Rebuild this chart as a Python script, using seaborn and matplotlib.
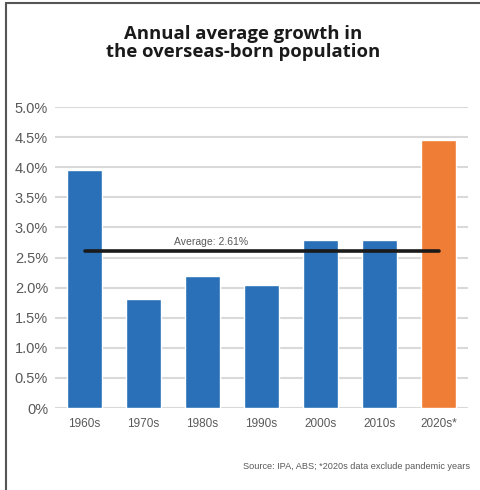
import matplotlib
matplotlib.use("Agg")
import matplotlib.pyplot as plt
import matplotlib.lines as mlines
import seaborn as sns
import pandas as pd

# Decades and annual average growth of the overseas-born population (%)
decades = ["1960s", "1970s", "1980s", "1990s", "2000s", "2010s", "2020s*"]
growth = [3.95, 1.81, 2.19, 2.05, 2.79, 2.79, 4.45]
average = 2.61
y_ticks = [0, 0.5, 1.0, 1.5, 2.0, 2.5, 3.0, 3.5, 4.0, 4.5, 5.0]
y_tick_labels = ["0%", "0.5%", "1.0%", "1.5%", "2.0%", "2.5%", "3.0%", "3.5%", "4.0%", "4.5%", "5.0%"]

BLUE = "#2970B8"
ORANGE = "#EF7D35"
GREY_TXT = "#595959"

sns.set_theme(style="white")
plt.rcParams["font.family"] = ["Liberation Sans", "DejaVu Sans"]

df = pd.DataFrame({"decade": decades, "growth": growth})
colors = [ORANGE if d.endswith("*") else BLUE for d in decades]

fig = plt.figure(figsize=(4.8, 4.9), dpi=100)
ax = fig.add_axes([0.1146, 0.1673, 0.8604, 0.6143])

sns.barplot(data=df, x="decade", y="growth", hue="decade", palette=colors,
            legend=False, width=0.6, saturation=1, ax=ax, zorder=3)

ax.set_ylim(0, 5.0)
ax.set_xlim(-0.5, len(decades) - 0.5)
ax.set_yticks(y_ticks)
ax.set_yticklabels(y_tick_labels, fontsize=10.5, color=GREY_TXT)
ax.tick_params(axis="x", labelsize=8.5, labelcolor=GREY_TXT, length=0, pad=7)
ax.tick_params(axis="y", length=0, pad=5)
ax.yaxis.grid(True, color="#D9D9D9", linewidth=1.5, zorder=0)
ax.set_axisbelow(True)
for s in ax.spines.values():
    s.set_visible(False)
ax.set_xlabel("")
ax.set_ylabel("")

# Average line across the decades
ax.plot([0, len(decades) - 1], [average, average], color="#1a1a1a",
        linewidth=2.6, solid_capstyle="round", zorder=4)
ax.text(2.15, average + 0.06, f"Average: {average:.2f}%", fontsize=7.5,
        color=GREY_TXT, ha="center", va="bottom", zorder=5)

fig.text(0.506, 0.912, "Annual average growth in\nthe overseas-born population",
         ha="center", va="center", fontsize=13.3, fontweight="bold",
         family=["Open Sans", "DejaVu Sans"], color="#1a1a1a", linespacing=0.98)

fig.text(0.979, 0.047, "Source: IPA, ABS; *2020s data exclude pandemic years",
         ha="right", va="center", fontsize=6.6, color=GREY_TXT)

# Frame on the top and left edges
fig.add_artist(mlines.Line2D([0.0125, 1.0], [0.9935, 0.9935], color="#555555",
                             linewidth=1.5, transform=fig.transFigure))
fig.add_artist(mlines.Line2D([0.0125, 0.0125], [0.0, 0.9935], color="#555555",
                             linewidth=1.5, transform=fig.transFigure))

fig.savefig("out.png", dpi=100, facecolor="white")
